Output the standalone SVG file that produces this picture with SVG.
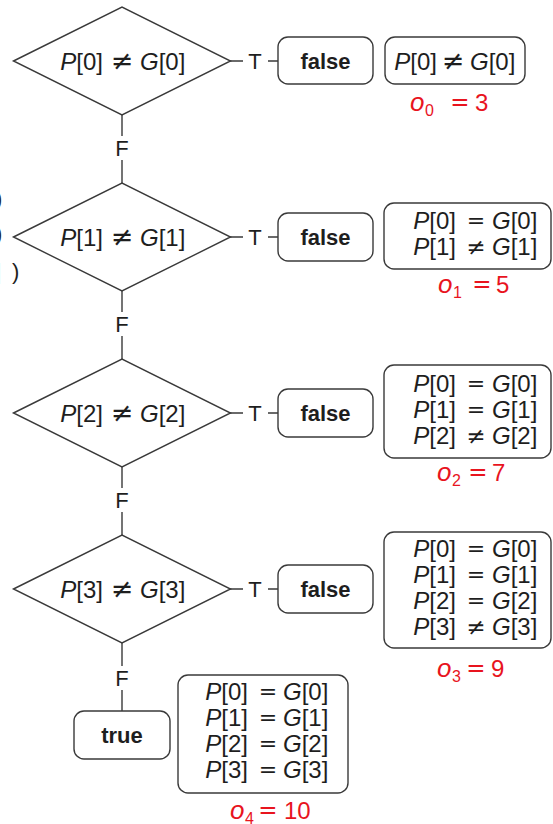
<svg xmlns="http://www.w3.org/2000/svg" width="553" height="824" viewBox="0 0 553 824">
  <style>
    .shape { fill: #ffffff; stroke: #3a3a3a; stroke-width: 1.4; }
    .wire { stroke: #3a3a3a; stroke-width: 1.4; fill: none; }
    text { font-family: "Liberation Sans", Arial, sans-serif; fill: #1e1e1e; }
    .eq { font-size: 24px; }
    .rel { font-family: "DejaVu Sans", sans-serif; font-size: 22px; text-anchor: middle; }
    .ne { font-size: 27px; }
    .ne2 { font-size: 23px; }
    .lab { font-size: 22px; }
    .bold { font-size: 22px; font-weight: bold; }
    .cost text { fill: #e8141e; font-size: 24px; }
    .cost .rel { font-size: 23px; }
    .cost .o { font-size: 26px; font-style: italic; }
    .cost .sub { font-size: 16px; }
    .it { font-style: italic; }
    .l { text-anchor: end; }
    .m { text-anchor: middle; }
  </style>
  <rect width="553" height="824" fill="#ffffff"/>

  <!-- clipped glyphs at the left edge -->
  <g id="edge-fragments" class="lab">
    <text x="-5" y="206">)</text>
    <text x="-5" y="241">)</text>
    <text x="-5" y="279">]</text>
    <text x="12" y="279">)</text>
  </g>

  <!-- connectors: F (down) and T (right) branches -->
  <g id="connectors">
    <path class="wire" d="M122 114 V136 M122 160 V183"/>
    <path class="wire" d="M122 290 V312 M122 336 V359"/>
    <path class="wire" d="M122 466 V488 M122 512 V535"/>
    <path class="wire" d="M122 642 V666 M122 690 V711"/>
    <path class="wire" d="M230 61 H243 M268 61 H278"/>
    <path class="wire" d="M230 237 H243 M268 237 H278"/>
    <path class="wire" d="M230 413 H243 M268 413 H278"/>
    <path class="wire" d="M230 589 H243 M268 589 H278"/>
    <g class="lab m">
      <text x="122" y="156">F</text>
      <text x="122" y="332">F</text>
      <text x="122" y="508">F</text>
      <text x="122" y="686">F</text>
      <text x="255" y="69">T</text>
      <text x="255" y="245">T</text>
      <text x="255" y="421">T</text>
      <text x="255" y="597">T</text>
    </g>
  </g>

  <!-- decision 0 -->
  <g id="dec0">
    <polygon class="shape" points="13.5,61 122,7 230.5,61 122,115"/>
    <g class="eq">
      <text class="l" x="103" y="70"><tspan class="it">P</tspan>[0]</text>
      <text class="rel ne" x="122" y="70">≠</text>
      <text x="140" y="70"><tspan class="it">G</tspan>[0]</text>
    </g>
  </g>
  <g id="false0">
    <rect class="shape" x="278" y="37" width="95" height="47" rx="10"/>
    <text class="bold m" x="325.5" y="69">false</text>
  </g>
  <g id="cond0">
    <rect class="shape" x="385" y="37" width="140" height="47" rx="10"/>
    <g class="eq">
      <text class="l" x="437" y="70"><tspan class="it">P</tspan>[0]</text>
      <text class="rel ne" x="453" y="70">≠</text>
      <text x="470" y="70"><tspan class="it">G</tspan>[0]</text>
    </g>
    <g class="cost">
      <text class="o" x="410" y="111">o</text>
      <text class="sub" x="425" y="116">0</text>
      <text class="rel" x="460" y="110">=</text>
      <text x="475" y="111">3</text>
    </g>
  </g>

  <!-- decision 1 -->
  <g id="dec1">
    <polygon class="shape" points="13.5,237 122,183 230.5,237 122,291"/>
    <g class="eq">
      <text class="l" x="103" y="246"><tspan class="it">P</tspan>[1]</text>
      <text class="rel ne" x="122" y="246">≠</text>
      <text x="140" y="246"><tspan class="it">G</tspan>[1]</text>
    </g>
  </g>
  <g id="false1">
    <rect class="shape" x="278" y="213" width="95" height="48" rx="10"/>
    <text class="bold m" x="325.5" y="245">false</text>
  </g>
  <g id="cond1">
    <rect class="shape" x="384" y="203" width="167" height="66" rx="10"/>
    <g class="eq">
      <text class="l" x="456" y="229"><tspan class="it">P</tspan>[0]</text>
      <text class="rel" x="476" y="228">=</text>
      <text x="492" y="229"><tspan class="it">G</tspan>[0]</text>
      <text class="l" x="456" y="255"><tspan class="it">P</tspan>[1]</text>
      <text class="rel ne2" x="476" y="255">≠</text>
      <text x="492" y="255"><tspan class="it">G</tspan>[1]</text>
    </g>
    <g class="cost">
      <text class="o" x="438" y="293">o</text>
      <text class="sub" x="453" y="298">1</text>
      <text class="rel" x="482" y="292">=</text>
      <text x="496" y="293">5</text>
    </g>
  </g>

  <!-- decision 2 -->
  <g id="dec2">
    <polygon class="shape" points="13.5,413 122,359 230.5,413 122,467"/>
    <g class="eq">
      <text class="l" x="103" y="422"><tspan class="it">P</tspan>[2]</text>
      <text class="rel ne" x="122" y="422">≠</text>
      <text x="140" y="422"><tspan class="it">G</tspan>[2]</text>
    </g>
  </g>
  <g id="false2">
    <rect class="shape" x="278" y="389" width="95" height="48" rx="10"/>
    <text class="bold m" x="325.5" y="421">false</text>
  </g>
  <g id="cond2">
    <rect class="shape" x="384" y="365" width="167" height="93" rx="10"/>
    <g class="eq">
      <text class="l" x="456" y="392"><tspan class="it">P</tspan>[0]</text>
      <text class="rel" x="476" y="391">=</text>
      <text x="492" y="392"><tspan class="it">G</tspan>[0]</text>
      <text class="l" x="456" y="418"><tspan class="it">P</tspan>[1]</text>
      <text class="rel" x="476" y="417">=</text>
      <text x="492" y="418"><tspan class="it">G</tspan>[1]</text>
      <text class="l" x="456" y="444"><tspan class="it">P</tspan>[2]</text>
      <text class="rel ne2" x="476" y="444">≠</text>
      <text x="492" y="444"><tspan class="it">G</tspan>[2]</text>
    </g>
    <g class="cost">
      <text class="o" x="437" y="481">o</text>
      <text class="sub" x="452" y="486">2</text>
      <text class="rel" x="478" y="480">=</text>
      <text x="492" y="481">7</text>
    </g>
  </g>

  <!-- decision 3 -->
  <g id="dec3">
    <polygon class="shape" points="13.5,589 122,535 230.5,589 122,643"/>
    <g class="eq">
      <text class="l" x="103" y="598"><tspan class="it">P</tspan>[3]</text>
      <text class="rel ne" x="122" y="598">≠</text>
      <text x="140" y="598"><tspan class="it">G</tspan>[3]</text>
    </g>
  </g>
  <g id="false3">
    <rect class="shape" x="278" y="565" width="95" height="48" rx="10"/>
    <text class="bold m" x="325.5" y="597">false</text>
  </g>
  <g id="cond3">
    <rect class="shape" x="384" y="532" width="167" height="116" rx="10"/>
    <g class="eq">
      <text class="l" x="456" y="557"><tspan class="it">P</tspan>[0]</text>
      <text class="rel" x="476" y="556">=</text>
      <text x="492" y="557"><tspan class="it">G</tspan>[0]</text>
      <text class="l" x="456" y="583"><tspan class="it">P</tspan>[1]</text>
      <text class="rel" x="476" y="582">=</text>
      <text x="492" y="583"><tspan class="it">G</tspan>[1]</text>
      <text class="l" x="456" y="609"><tspan class="it">P</tspan>[2]</text>
      <text class="rel" x="476" y="608">=</text>
      <text x="492" y="609"><tspan class="it">G</tspan>[2]</text>
      <text class="l" x="456" y="635"><tspan class="it">P</tspan>[3]</text>
      <text class="rel ne2" x="476" y="635">≠</text>
      <text x="492" y="635"><tspan class="it">G</tspan>[3]</text>
    </g>
    <g class="cost">
      <text class="o" x="437" y="677">o</text>
      <text class="sub" x="452" y="682">3</text>
      <text class="rel" x="476" y="676">=</text>
      <text x="491" y="677">9</text>
    </g>
  </g>

  <!-- terminal: all positions equal -->
  <g id="true4">
    <rect class="shape" x="74" y="711" width="96" height="48" rx="10"/>
    <text class="bold m" x="122" y="743">true</text>
  </g>
  <g id="cond4">
    <rect class="shape" x="178" y="675" width="170" height="118" rx="10"/>
    <g class="eq">
      <text class="l" x="248" y="700"><tspan class="it">P</tspan>[0]</text>
      <text class="rel" x="268" y="699">=</text>
      <text x="283" y="700"><tspan class="it">G</tspan>[0]</text>
      <text class="l" x="248" y="726"><tspan class="it">P</tspan>[1]</text>
      <text class="rel" x="268" y="725">=</text>
      <text x="283" y="726"><tspan class="it">G</tspan>[1]</text>
      <text class="l" x="248" y="752"><tspan class="it">P</tspan>[2]</text>
      <text class="rel" x="268" y="751">=</text>
      <text x="283" y="752"><tspan class="it">G</tspan>[2]</text>
      <text class="l" x="248" y="778"><tspan class="it">P</tspan>[3]</text>
      <text class="rel" x="268" y="777">=</text>
      <text x="283" y="778"><tspan class="it">G</tspan>[3]</text>
    </g>
    <g class="cost">
      <text class="o" x="230" y="819">o</text>
      <text class="sub" x="245" y="824">4</text>
      <text class="rel" x="268" y="818">=</text>
      <text x="284" y="819">10</text>
    </g>
  </g>
</svg>
